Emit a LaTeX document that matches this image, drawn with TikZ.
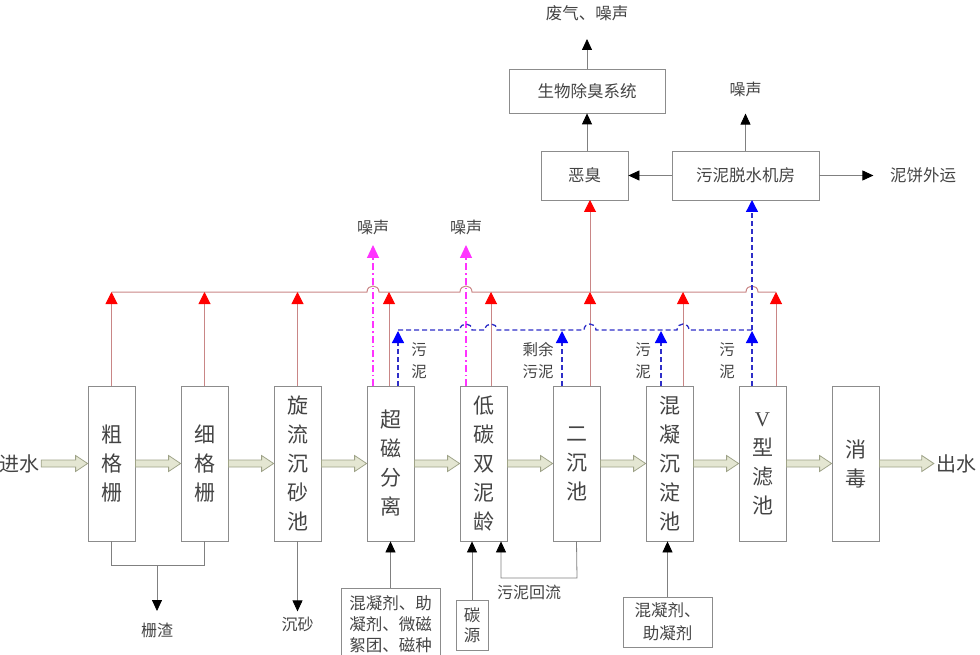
\documentclass[tikz,border=0pt]{standalone}
\usepackage{fontspec}
\setmainfont{Liberation Serif}
\newfontfamily\cjk{Noto Sans CJK SC}
\usetikzlibrary{arrows.meta,calc}
\definecolor{boxline}{HTML}{8C8C8C}
\definecolor{txt}{HTML}{444444}
\definecolor{redc}{HTML}{C98686}
\definecolor{redtip}{HTML}{FF0000}
\definecolor{magc}{HTML}{FF33FF}
\definecolor{bluc}{HTML}{2E2EC8}
\definecolor{blutip}{HTML}{0000FF}
\definecolor{flowfill}{HTML}{E4E6D2}
\definecolor{flowdraw}{HTML}{9EA287}
\definecolor{connc}{HTML}{808080}
\newcommand\flowarrow[2]{%
  \filldraw[flowarr] ($(#1)+(0,-3.5)$) -- ($(#2)+(-12,-3.5)$) -- ($(#2)+(-12,-8)$) -- (#2)
   -- ($(#2)+(-12,8)$) -- ($(#2)+(-12,3.5)$) -- ($(#1)+(0,3.5)$) -- cycle;}
\begin{document}
\begin{tikzpicture}[x=1pt,y=-1pt,
  proc/.style={draw=boxline, line width=0.8pt, minimum width=47pt, minimum height=155pt,
    inner sep=0pt, align=center, font=\cjk\fontsize{21}{29}\selectfont, text=txt},
  tbox/.style={draw=boxline, line width=0.8pt, inner sep=0pt, align=center,
    font=\cjk\fontsize{16.5}{21}\selectfont, text=txt},
  lbl/.style={inner sep=0pt, align=center, font=\cjk\fontsize{16}{22}\selectfont, text=txt},
  conn/.style={draw=connc, line width=0.8pt},
  blk/.style={conn, -{Triangle[length=11pt,width=10pt,color=black]}},
  redln/.style={draw=redc, line width=1pt},
  redarr/.style={redln, -{Triangle[length=12pt,width=12pt,color=redtip]}},
  magarr/.style={draw=magc, line width=1.2pt, dash pattern=on 7pt off 3pt on 1.5pt off 3pt,
    -{Triangle[length=13pt,width=12pt,color=magc]}},
  bluln/.style={draw=bluc, line width=1.3pt, dash pattern=on 5pt off 3pt},
  bluarr/.style={bluln, -{Triangle[length=12pt,width=12pt,color=blutip]}},
  flowarr/.style={fill=flowfill, draw=flowdraw, line width=0.8pt}]
\useasboundingbox (0,0) rectangle (980,655);

% main process boxes
\node[proc] (b1) at (111.5,463.5) {粗\\格\\栅};
\node[proc] (b2) at (204.5,463.5) {细\\格\\栅};
\node[proc] (b3) at (297.5,463.5) {旋\\流\\沉\\砂\\池};
\node[proc] (b4) at (390.5,463.5) {超\\磁\\分\\离};
\node[proc] (b5) at (483.5,463.5) {低\\碳\\双\\泥\\龄};
\node[proc] (b6) at (576.5,463.5) {二\\沉\\池};
\node[proc] (b7) at (669.5,463.5) {混\\凝\\沉\\淀\\池};
\node[proc] (b8) at (762.5,463.5) {{\rmfamily V}\\型\\滤\\池};
\node[proc] (b9) at (855.5,463.5) {消\\毒};
\node[lbl, inner sep=2pt, font=\cjk\fontsize{20}{24}\selectfont] (in) at (19,463.5) {进水};
\node[lbl, inner sep=2pt, font=\cjk\fontsize{20}{24}\selectfont] (out) at (956,463.5) {出水};

% flow arrows
\flowarrow{in.east}{b1.west}
\flowarrow{b1.east}{b2.west}
\flowarrow{b2.east}{b3.west}
\flowarrow{b3.east}{b4.west}
\flowarrow{b4.east}{b5.west}
\flowarrow{b5.east}{b6.west}
\flowarrow{b6.east}{b7.west}
\flowarrow{b7.east}{b8.west}
\flowarrow{b8.east}{b9.west}
\flowarrow{b9.east}{out.west}

% top boxes
\node[tbox, minimum width=156pt, minimum height=44pt] (bio) at (587,91) {生物除臭系统};
\node[tbox, minimum width=87pt, minimum height=49pt] (odor) at (584.5,175.5) {恶臭};
\node[tbox, minimum width=147pt, minimum height=49pt] (dew) at (745.5,175.5) {污泥脱水机房};
\node[lbl, font=\cjk\fontsize{16.5}{21}\selectfont] (gas) at (587,13) {废气、噪声};
\node[lbl] (n3) at (745.5,89) {噪声};
\node[lbl, font=\cjk\fontsize{16.5}{21}\selectfont] (cake) at (923,175.5) {泥饼外运};
\coordinate (gastip) at (587,39);
\draw[blk] (bio.north) -- (gastip);
\draw[blk] (bio.south |- odor.north) -- (bio.south);
\draw[blk] (dew.west) -- (odor.east);
\draw[blk] (dew.north) -- ++(0,-37);
\draw[blk] (dew.east) -- ++(54,0);

% red collector (odour)
\coordinate (ry) at (0,292);
\draw[redln] (111.5,292) -- (367,292) .. controls (367,284) and (379,284) .. (379,292)
  -- (460,292) .. controls (460,284) and (472,284) .. (472,292)
  -- (746,292) .. controls (746,284) and (758,284) .. (758,292) -- (776,292);
\draw[redarr] (b1.north) -- (b1.north |- ry);
\draw[redarr] (b2.north) -- (b2.north |- ry);
\draw[redarr] (b3.north) -- (b3.north |- ry);
\draw[redarr] (389,386) -- (389,292);
\draw[redarr] (491,386) -- (491,292);
\draw[redarr] (590,386) -- (590,292);
\draw[redarr] (590,292) -- (590,200);
\draw[redarr] (683,386) -- (683,292);
\draw[redarr] (776,386) -- (776,292);

% magenta noise
\draw[magarr] (373,386) -- (373,245);
\draw[magarr] (466,386) -- (466,245);
\node[lbl] (n1) at (373,227) {噪声};
\node[lbl] (n2) at (466,227) {噪声};

% blue sludge
\draw[bluln] (398,330) -- (460,330) .. controls (460,322) and (472,322) .. (472,330)
  -- (485,330) .. controls (485,322) and (497,322) .. (497,330)
  -- (584,330) .. controls (584,322) and (596,322) .. (596,330)
  -- (677,330) .. controls (677,322) and (689,322) .. (689,330) -- (752,330);
\draw[bluarr] (398,386) -- (398,331);
\draw[bluarr] (562,386) -- (562,331);
\draw[bluarr] (661,386) -- (661,331);
\draw[bluarr] (752,386) -- (752,331);
\draw[bluarr] (752,330) -- (752,200);
\node[lbl, font=\cjk\fontsize{15.5}{22}\selectfont] (s1) at (419,361) {污\\泥};
\node[lbl, font=\cjk\fontsize{15.5}{22}\selectfont] (s2) at (538,361) {剩余\\污泥};
\node[lbl, font=\cjk\fontsize{15.5}{22}\selectfont] (s3) at (643,361) {污\\泥};
\node[lbl, font=\cjk\fontsize{15.5}{22}\selectfont] (s4) at (727,361) {污\\泥};

% bottom
\coordinate (j1) at (157,565);
\coordinate (j1t) at (157,611);
\draw[conn] (b1.south) -- (b1.south |- j1) -- (b2.south |- j1) -- (b2.south);
\draw[blk] (j1) -- (j1t);
\node[lbl] (slag) at (157,630) {栅渣};
\draw[blk] (b3.south) -- ++(0,70);
\node[lbl] (sand) at (297.5,624) {沉砂};

\node[tbox, minimum width=99pt, minimum height=72pt] (c1) at (390.5,624) {混凝剂、助\\凝剂、微磁\\絮团、磁种};
\draw[blk] (c1.north) -- (b4.south);
\node[tbox, minimum width=32pt, minimum height=50pt, font=\cjk\fontsize{16.5}{20}\selectfont] (c2) at (472,625) {碳\\源};
\draw[blk] (c2.north) -- (c2.north |- b5.south);
\coordinate (r1) at (577,578);
\coordinate (r2) at (501,578);
\draw[blk] (b6.south) -- (r1) -- (r2) -- (r2 |- b5.south);
\node[lbl] (ret) at (529,592) {污泥回流};
\node[tbox, minimum width=89pt, minimum height=50pt, font=\cjk\fontsize{16.5}{23}\selectfont] (c3) at (667.5,622) {混凝剂、\\助凝剂};
\draw[blk] (c3.north) -- (c3.north |- b7.south);
\end{tikzpicture}
\end{document}
